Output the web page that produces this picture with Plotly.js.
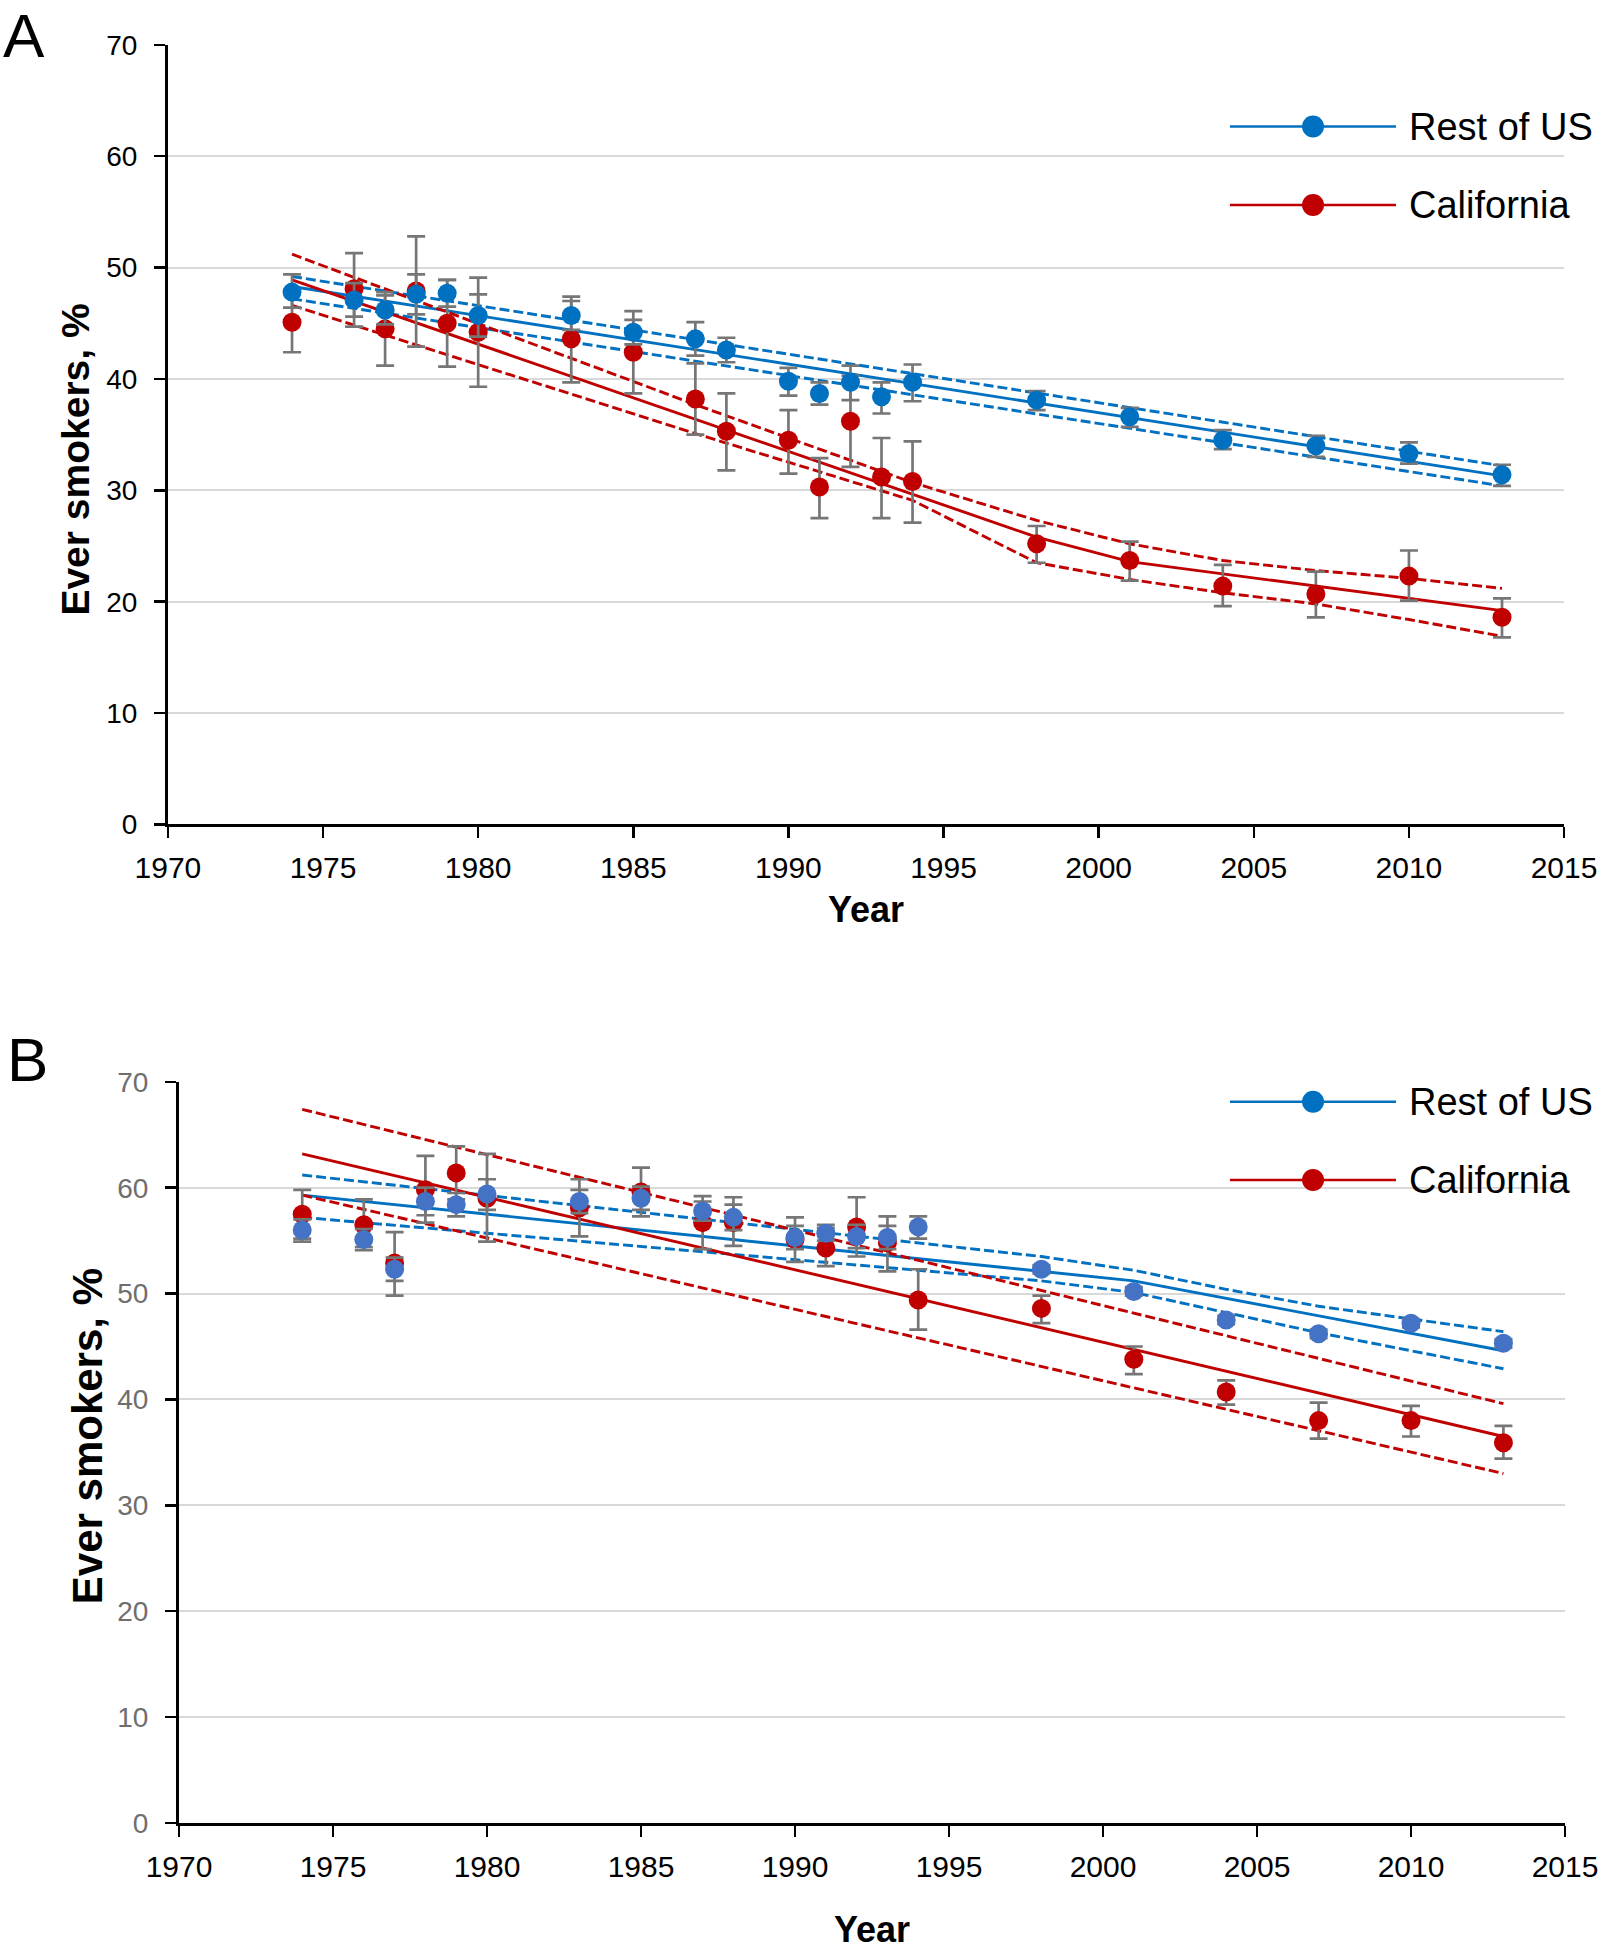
<!DOCTYPE html>
<html>
<head>
<meta charset="utf-8">
<script src="https://cdn.plot.ly/plotly-3.0.1.min.js"></script>
<style>
  html, body { margin: 0; padding: 0; background: #fff; }
  #chart { width: 1604px; height: 1950px; }
</style>
</head>
<body>
<div id="chart"></div>
<script>
// ---------- Data ----------
const years = [1974,1976,1977,1978,1979,1980,1983,1985,1987,1988,1990,1991,1992,1993,1994,1998,2001,2004,2007,2010,2013];

// Panel A
const usA    = [47.8,47.1,46.2,47.6,47.7,45.7,45.7,44.2,43.6,42.6,39.8,38.7,39.7,38.4,39.7,38.1,36.6,34.5,34.0,33.3,31.4];
const usA_lo = [46.4,45.6,44.9,45.8,46.5,43.8,44.4,43.1,42.1,41.5,38.5,37.7,38.1,36.9,38.0,37.2,35.7,33.7,33.0,32.4,30.4];
const usA_hi = [49.4,48.6,47.5,49.4,48.9,47.6,47.0,45.3,45.1,43.7,41.0,39.7,41.2,39.7,41.3,38.9,37.4,35.4,34.9,34.3,32.3];
const caA    = [45.1,48.1,44.5,47.9,45.0,44.2,43.6,42.4,38.2,35.3,34.5,30.3,36.2,31.2,30.8,25.2,23.7,21.4,20.7,22.3,18.6];
const caA_lo = [42.4,44.7,41.2,42.9,41.1,39.3,39.7,38.7,35.0,31.8,31.5,27.5,32.1,27.5,27.1,23.5,21.9,19.6,18.6,20.1,16.8];
const caA_hi = [47.8,51.3,47.8,52.8,48.9,49.1,47.4,46.1,41.4,38.7,37.2,32.9,40.3,34.7,34.4,26.8,25.4,23.3,22.7,24.6,20.3];

// Panel A trend lines (joinpoint fits and 95% CI)
const usA_fitYears = [1974, 2013];
const usA_fit      = [48.3, 31.3];
const usA_fitLo    = [47.2, 30.4];
const usA_fitHi    = [49.2, 32.2];
const caA_fitYears = [1974, 1998, 2001, 2013];
const caA_fit      = [48.9, 25.8, 23.6, 19.2];
const caA_ciYears  = [1974, 1987, 1994, 1998, 2001, 2004, 2007, 2010, 2013];
const caA_fitHi    = [51.2, 37.7, 30.7, 27.3, 25.2, 23.7, 22.8, 22.1, 21.2];
const caA_fitLo    = [46.6, 35.1, 29.1, 23.5, 22.0, 20.8, 19.8, 18.4, 16.9];

// Panel B
const usB    = [56.0,55.1,52.3,58.7,58.4,59.4,58.7,59.0,57.8,57.2,55.3,55.7,55.4,55.3,56.3,52.3,50.2,47.5,46.2,47.2,45.3];
const usB_lo = [54.9,54.1,51.2,57.4,57.3,57.9,57.6,57.9,56.9,56.0,54.2,55.0,54.3,54.2,55.2,51.9,49.8,47.1,45.8,46.8,44.9];
const usB_hi = [57.0,56.1,53.4,60.0,59.5,60.8,59.8,60.1,58.7,58.4,56.4,56.5,56.5,56.4,57.3,52.7,50.6,47.9,46.6,47.6,45.7];
const caB    = [57.5,56.5,52.9,59.8,61.4,59.0,58.1,59.6,56.7,56.7,55.1,54.3,56.3,54.8,49.4,48.6,43.8,40.7,38.0,38.0,35.9];
const caB_lo = [55.2,54.4,49.8,56.7,58.9,54.9,55.4,57.3,54.2,54.5,53.0,52.6,53.5,52.1,46.6,47.2,42.4,39.5,36.3,36.5,34.4];
const caB_hi = [59.8,58.9,55.8,63.0,63.9,63.2,60.8,61.9,59.2,59.1,57.2,56.2,59.1,57.3,52.3,49.8,45.0,41.8,39.7,39.4,37.5];

// Panel B trend lines
const usB_fitYears = [1974, 2001, 2013];
const usB_fit      = [59.3, 51.2, 44.6];
const usB_ciYears  = [1974, 1998, 2001, 2004, 2007, 2010, 2013];
const usB_fitHi    = [61.2, 53.5, 52.2, 50.4, 48.8, 47.6, 46.4];
const usB_fitLo    = [57.2, 51.2, 50.1, 48.2, 46.3, 44.6, 42.9];
const caB_fitYears = [1974, 2013];
const caB_fit      = [63.2, 36.5];
const caB_fitHi    = [67.4, 39.6];
const caB_fitLo    = [59.3, 33.0];

const seriesNames = ['Rest of US', 'California'];
const panelLabels = ['A', 'B'];
const yTitle = 'Ever smokers, %';
const xTitle = 'Year';

// ---------- Styles ----------
const BLUE = '#0070C0', BLUE_B = '#4472C4', RED = '#C00000', ERR = '#767676';
const FONT = '"Liberation Sans", Arial, sans-serif';
const DASH = '10px,4px';

function line(x, y, color, dash, xa, ya) {
  return { x, y, type: 'scatter', mode: 'lines', xaxis: xa, yaxis: ya,
           line: { color, width: 2.9, dash: dash || 'solid' }, hoverinfo: 'skip', showlegend: false };
}
function pts(x, y, lo, hi, color, xa, ya, name) {
  return { x, y, type: 'scatter', mode: 'markers', xaxis: xa, yaxis: ya, name, showlegend: false,
           marker: { color, size: 19, line: { width: 0 } },
           error_y: { type: 'data', symmetric: false,
                      array: hi.map((h, i) => +(h - y[i]).toFixed(2)),
                      arrayminus: lo.map((l, i) => +(y[i] - l).toFixed(2)),
                      color: ERR, thickness: 2.7, width: 9 } };
}

const traces = [
  // Panel A
  line(usA_fitYears, usA_fitHi, BLUE, DASH, 'x', 'y'),
  line(usA_fitYears, usA_fitLo, BLUE, DASH, 'x', 'y'),
  line(usA_fitYears, usA_fit, BLUE, null, 'x', 'y'),
  line(caA_ciYears, caA_fitHi, RED, DASH, 'x', 'y'),
  line(caA_ciYears, caA_fitLo, RED, DASH, 'x', 'y'),
  line(caA_fitYears, caA_fit, RED, null, 'x', 'y'),
  pts(years, caA, caA_lo, caA_hi, RED, 'x', 'y', seriesNames[1]),
  pts(years, usA, usA_lo, usA_hi, BLUE, 'x', 'y', seriesNames[0]),
  // Panel B
  line(usB_ciYears, usB_fitHi, BLUE, DASH, 'x2', 'y2'),
  line(usB_ciYears, usB_fitLo, BLUE, DASH, 'x2', 'y2'),
  line(usB_fitYears, usB_fit, BLUE, null, 'x2', 'y2'),
  line(caB_fitYears, caB_fitHi, RED, DASH, 'x2', 'y2'),
  line(caB_fitYears, caB_fitLo, RED, DASH, 'x2', 'y2'),
  line(caB_fitYears, caB_fit, RED, null, 'x2', 'y2'),
  pts(years, caB, caB_lo, caB_hi, RED, 'x2', 'y2', seriesNames[1]),
  pts(years, usB, usB_lo, usB_hi, BLUE_B, 'x2', 'y2', seriesNames[0])
];

function xaxisCfg(domain, anchor, titleStandoff) {
  return { domain, anchor, range: [1970, 2015], tick0: 1970, dtick: 5,
           showline: true, linecolor: '#000', linewidth: 3, mirror: false,
           ticks: 'outside', ticklen: 11, tickwidth: 2.5, tickcolor: '#000',
           showgrid: false, zeroline: false, automargin: false,
           tickfont: { family: FONT, size: 30, color: '#000' }, ticklabelstandoff: 4,
           title: { text: xTitle, font: { family: FONT, size: 36, color: '#000', weight: 700 }, standoff: titleStandoff } };
}
function yaxisCfg(domain, anchor, tickColor) {
  return { domain, anchor, range: [0, 70], tick0: 0, dtick: 10,
           showline: true, linecolor: '#000', linewidth: 3,
           ticks: 'outside', ticklen: 11, tickwidth: 2.5, tickcolor: '#000',
           showgrid: true, gridcolor: '#d9d9d9', gridwidth: 2, zeroline: false, automargin: false,
           tickfont: { family: FONT, size: 28, color: tickColor }, ticklabelstandoff: 11 };
}

// legend decorations (paper coords)
function legendItems(yTop, yBot) {
  const shapes = [], ann = [];
  [[yTop, BLUE, seriesNames[0]], [yBot, RED, seriesNames[1]]].forEach(([y, c, t]) => {
    shapes.push({ type: 'line', xref: 'paper', yref: 'paper', x0: 0.7668, x1: 0.8703, y0: y, y1: y,
                  line: { color: c, width: 2.6 } });
    shapes.push({ type: 'circle', xref: 'paper', yref: 'paper', xsizemode: 'pixel', ysizemode: 'pixel',
                  xanchor: 0.8186, yanchor: y, x0: -11, x1: 11, y0: -11, y1: 11,
                  fillcolor: c, line: { width: 0 } });
    ann.push({ xref: 'paper', yref: 'paper', x: 0.8770, y: y, xanchor: 'left', yanchor: 'middle',
               text: t, showarrow: false, font: { family: FONT, size: 38, color: '#000' } });
  });
  return { shapes, ann };
}
const legA = legendItems(0.9351, 0.8949);
const legB = legendItems(0.4350, 0.3949);

const layout = {
  width: 1604, height: 1950,
  margin: { l: 0, r: 0, t: 0, b: 0 },
  paper_bgcolor: '#fff', plot_bgcolor: '#fff',
  font: { family: FONT, color: '#000' },
  showlegend: false,
  xaxis: xaxisCfg([0.1047, 0.9751], 'y', 14),
  yaxis: yaxisCfg([0.5772, 0.9770], 'x', '#000'),
  xaxis2: xaxisCfg([0.1116, 0.9757], 'y2', 38),
  yaxis2: yaxisCfg([0.0652, 0.4452], 'x2', '#6e6e6e'),
  shapes: [...legA.shapes, ...legB.shapes],
  annotations: [
    ...legA.ann, ...legB.ann,
    // y-axis titles
    { xref: 'paper', yref: 'paper', x: 0.0465, y: 0.7641, xanchor: 'center', yanchor: 'middle',
      textangle: -90, text: yTitle, showarrow: false,
      font: { family: FONT, size: 39, color: '#000', weight: 700 } },
    { xref: 'paper', yref: 'paper', x: 0.0550, y: 0.2636, xanchor: 'center', yanchor: 'middle',
      textangle: -90, text: yTitle, showarrow: false,
      font: { family: FONT, size: 42, color: '#000', weight: 700 } },
    // panel labels
    { xref: 'paper', yref: 'paper', x: 0.001, y: 1.0, xanchor: 'left', yanchor: 'top', borderpad: 0,
      text: panelLabels[0], showarrow: false, font: { family: FONT, size: 62, color: '#000' } },
    { xref: 'paper', yref: 'paper', x: 0.003, y: 0.4565, xanchor: 'left', yanchor: 'middle',
      text: panelLabels[1], showarrow: false, font: { family: FONT, size: 62, color: '#000' } }
  ]
};

Plotly.newPlot('chart', traces, layout, { staticPlot: true, displayModeBar: false });
</script>
</body>
</html>
